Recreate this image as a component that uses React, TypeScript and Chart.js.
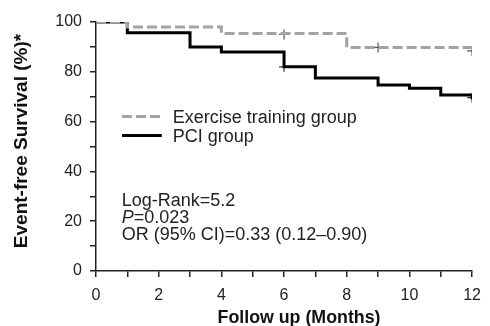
import React, { useEffect, useRef } from "react";
import { Chart, registerables } from "chart.js";

Chart.register(...registerables);

// Kaplan–Meier steps (month, event-free survival %)
const exerciseMonths = [0, 1, 4, 8, 12];
const exerciseSurvival = [100, 98, 95.4, 89.8, 88];
const pciMonths = [0, 1, 3, 4, 6, 7, 9, 10, 11, 12];
const pciSurvival = [100, 95.7, 90, 88, 82, 77.5, 74.7, 73.4, 70.7, 69];

// censoring marks
const exerciseCensorMonths = [6, 9, 12];
const exerciseCensorSurvival = [95, 89.8, 88.4];
const pciCensorMonths = [6, 12];
const pciCensorSurvival = [82, 69.6];

const xTicks = [0, 2, 4, 6, 8, 10, 12];
const yTicks = [0, 20, 40, 60, 80, 100];

const seriesNames = ["Exercise training group", "PCI group"];
const statLines = ["Log-Rank=5.2", "P=0.023", "OR (95% CI)=0.33 (0.12\u20130.90)"];
const xTitle = "Follow up (Months)";
const yTitle = "Event-free Survival (%)*";

const GREY = "#a3a3a3";
const BLACK = "#000000";
const FONT = "'Liberation Sans', Arial, sans-serif";

const pts = (xs: number[], ys: number[]) => xs.map((x, i) => ({ x, y: ys[i] }));

export default function App() {
  const ref = useRef<HTMLCanvasElement | null>(null);

  useEffect(() => {
    document.body.style.margin = "0";
    const canvas = ref.current!;
    const textPlugin = {
      id: "texts",
      afterDraw(chart: any) {
        const ctx = chart.ctx as CanvasRenderingContext2D;
        const xs = chart.scales.x;
        const ys = chart.scales.y;
        ctx.save();
        // legend
        ctx.textBaseline = "middle";
        ctx.textAlign = "left";
        ctx.font = `18px ${FONT}`;
        ctx.fillStyle = "#222";
        const lx0 = xs.getPixelForValue(0.83);
        const lx1 = xs.getPixelForValue(2.1);
        const ly1 = ys.getPixelForValue(62);
        const ly2 = ys.getPixelForValue(54.4);
        ctx.lineWidth = 3;
        ctx.strokeStyle = GREY;
        ctx.setLineDash([10, 4]);
        ctx.beginPath();
        ctx.moveTo(lx0, ly1);
        ctx.lineTo(lx1, ly1);
        ctx.stroke();
        ctx.setLineDash([]);
        ctx.strokeStyle = BLACK;
        ctx.beginPath();
        ctx.moveTo(lx0, ly2);
        ctx.lineTo(lx1, ly2);
        ctx.stroke();
        const tx = xs.getPixelForValue(2.45);
        ctx.fillText(seriesNames[0], tx, ly1 + 1);
        ctx.fillText(seriesNames[1], tx, ly2 + 1);

        // statistics
        ctx.textBaseline = "alphabetic";
        const sx = xs.getPixelForValue(0.82);
        ctx.font = `18px ${FONT}`;
        ctx.fillText(statLines[0], sx, ys.getPixelForValue(26.0));
        ctx.font = `italic 18px ${FONT}`;
        ctx.fillText("P", sx, ys.getPixelForValue(19.2));
        const pw = ctx.measureText("P").width;
        ctx.font = `18px ${FONT}`;
        ctx.fillText(statLines[1].slice(1), sx + pw, ys.getPixelForValue(19.2));
        ctx.fillText(statLines[2], sx, ys.getPixelForValue(12.3));

        // axis titles
        ctx.fillStyle = "#111";
        ctx.font = `bold 17.8px ${FONT}`;
        ctx.textAlign = "center";
        ctx.textBaseline = "middle";
        ctx.fillText(xTitle, 299, 318.5);
        ctx.translate(22, 141);
        ctx.rotate(-Math.PI / 2);
        ctx.font = `bold 19px ${FONT}`;
        ctx.fillText(yTitle, 0, 0);
        ctx.restore();
      },
    };

    const chart = new Chart(canvas, {
      type: "line",
      data: {
        datasets: [
          {
            label: seriesNames[0],
            data: pts(exerciseMonths, exerciseSurvival),
            borderColor: GREY,
            borderWidth: 3,
            borderDash: [10, 4],
            stepped: "before",
            pointRadius: 0,
            fill: false,
          },
          {
            label: seriesNames[1],
            data: pts(pciMonths, pciSurvival),
            borderColor: BLACK,
            borderWidth: 3,
            stepped: "before",
            pointRadius: 0,
            fill: false,
          },
          {
            label: "exercise censored",
            data: pts(exerciseCensorMonths, exerciseCensorSurvival),
            showLine: false,
            pointStyle: "cross",
            pointRadius: 5,
            pointBorderWidth: 1.2,
            pointBorderColor: "#555",
            borderColor: "#555",
          },
          {
            label: "pci censored",
            data: pts(pciCensorMonths, pciCensorSurvival),
            showLine: false,
            pointStyle: "cross",
            pointRadius: 5,
            pointBorderWidth: 1.2,
            pointBorderColor: "#333",
            borderColor: "#333",
          },
        ],
      },
      options: {
        animation: false,
        responsive: false,
        layout: { padding: { left: 0, right: 17, top: 22, bottom: 0 } },
        plugins: { legend: { display: false }, tooltip: { enabled: false } },
        scales: {
          x: {
            type: "linear",
            min: 0,
            max: 12,
            afterFit: (s: any) => {
              s.height = 55;
            },
            afterBuildTicks: (s: any) => {
              const t = [];
              for (let v = 0; v <= 12; v += 1) t.push({ value: v });
              s.ticks = t;
            },
            ticks: {
              autoSkip: false,
              maxRotation: 0,
              padding: 9,
              color: "#222",
              font: { family: FONT, size: 16 },
              callback: (v: any) => (xTicks.includes(Number(v)) ? String(v) : ""),
            },
            grid: {
              drawOnChartArea: false,
              drawTicks: true,
              tickLength: 6,
              color: "#222",
              lineWidth: 1.5,
            },
            border: { display: true, color: "#222", width: 1.5 },
          },
          y: {
            type: "linear",
            min: 0,
            max: 100,
            afterFit: (s: any) => {
              s.width = 96;
            },
            afterBuildTicks: (s: any) => {
              const t = [];
              for (let v = 0; v <= 100; v += 10) t.push({ value: v });
              s.ticks = t;
            },
            ticks: {
              autoSkip: false,
              padding: 8,
              color: "#222",
              font: { family: FONT, size: 16 },
              callback: (v: any) => (yTicks.includes(Number(v)) ? String(v) : ""),
            },
            grid: {
              drawOnChartArea: false,
              drawTicks: true,
              tickLength: 6,
              color: "#222",
              lineWidth: 1.5,
            },
            border: { display: true, color: "#222", width: 1.5 },
          },
        },
      },
      plugins: [textPlugin],
    } as any);
    return () => chart.destroy();
  }, []);

  return (
    <canvas
      ref={ref}
      width={490}
      height={326}
      style={{ position: "fixed", left: 0, top: 0, width: 490, height: 326 }}
    />
  );
}
